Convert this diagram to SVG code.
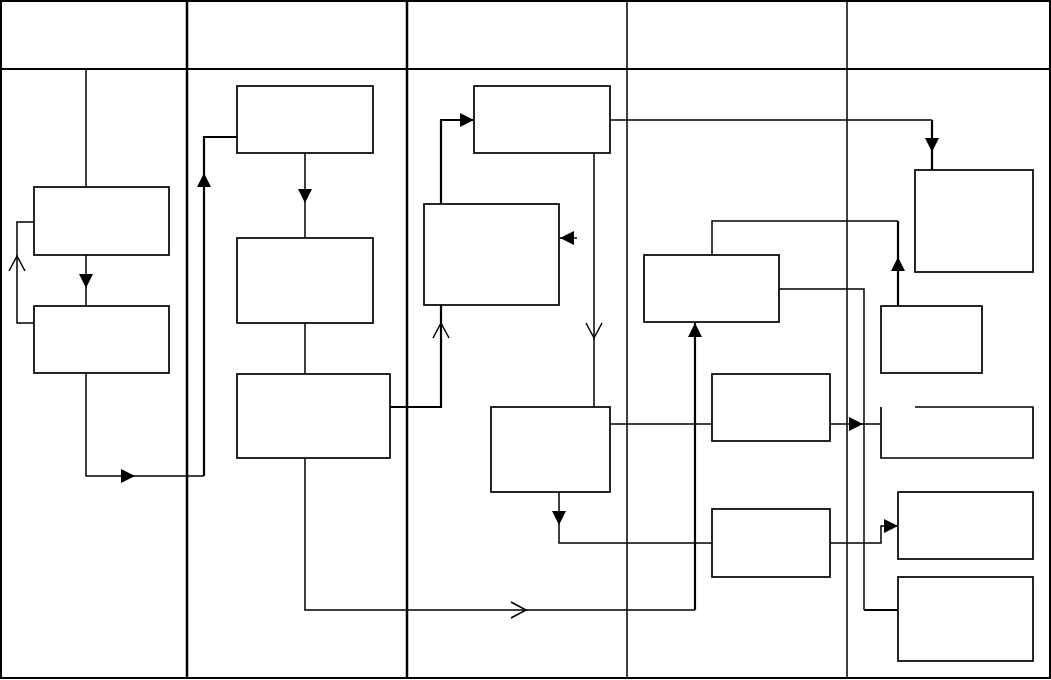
<svg xmlns="http://www.w3.org/2000/svg" xmlns:xlink="http://www.w3.org/1999/xlink" width="1051" height="680" viewBox="0 0 1051 680">
<style>
.bg{fill:#fff}
.frame{fill:none;stroke:#000;stroke-width:2}
.lane{stroke:#000;stroke-width:2.5}
.lane-thin{stroke:#000;stroke-width:1.5}
.box{fill:#fff;stroke:#000;stroke-width:1.7}
.conn{fill:none;stroke:#000;stroke-width:1.5}
.thick{stroke-width:2.2}
.tri{fill:#000;stroke:none}
.chev{fill:none;stroke:#000;stroke-width:1.5}
</style>
<defs>
<path id="tri" d="M0,0 L-14,-7 L-14,7 Z"/>
<path id="chev" d="M-15,-8 L0,0 L-15,8"/>
</defs>
<rect class="bg" x="0" y="0" width="1051" height="680"/>
<g id="grid">
<rect class="frame" x="1" y="1" width="1049" height="677"/>
<line class="lane" x1="187" y1="1" x2="187" y2="678"/>
<line class="lane" x1="407" y1="1" x2="407" y2="678"/>
<line class="lane-thin" x1="627" y1="1" x2="627" y2="678"/>
<line class="lane-thin" x1="847" y1="1" x2="847" y2="678"/>
<line class="lane" x1="1" y1="69" x2="1050" y2="69" style="stroke-width:2"/>
</g>
<g id="connectors">
<path class="conn" d="M86,69 V187"/>
<path class="conn" d="M86,255 V306"/>
<use class="tri" xlink:href="#tri" transform="translate(86,288) rotate(90)"/>
<path class="conn" d="M34,323 H17 V222 H34"/>
<use class="chev" xlink:href="#chev" transform="translate(17,256) rotate(-90)"/>
<path class="conn" d="M86,373 V476 H204"/>
<path class="conn thick" d="M204,476 V137 H237"/>
<use class="tri" xlink:href="#tri" transform="translate(135,476)"/>
<use class="tri" xlink:href="#tri" transform="translate(204,173) rotate(-90)"/>
<path class="conn" d="M305,153 V238"/>
<use class="tri" xlink:href="#tri" transform="translate(305,203) rotate(90)"/>
<path class="conn" d="M305,323 V374"/>
<path class="conn thick" d="M390,407 H441 V305"/>
<use class="chev" xlink:href="#chev" transform="translate(441,323) rotate(-90)"/>
<path class="conn thick" d="M441,204 V120 H474"/>
<use class="tri" xlink:href="#tri" transform="translate(474,120)"/>
<path class="conn" d="M577,238 H560"/>
<use class="tri" xlink:href="#tri" transform="translate(560,238) rotate(180)"/>
<path class="conn" d="M610,120 H932"/>
<path class="conn thick" d="M932,120 V170"/>
<use class="tri" xlink:href="#tri" transform="translate(932,152) rotate(90)"/>
<path class="conn" d="M594,153 V407"/>
<use class="chev" xlink:href="#chev" transform="translate(594,338) rotate(90)"/>
<path class="conn" d="M610,424 H712"/>
<path class="conn" d="M559,492 V543 H712"/>
<use class="tri" xlink:href="#tri" transform="translate(559,525) rotate(90)"/>
<path class="conn" d="M305,458 V610 H695"/>
<path class="conn thick" d="M695,610 V322"/>
<use class="chev" xlink:href="#chev" transform="translate(526,610)"/>
<use class="tri" xlink:href="#tri" transform="translate(695,323) rotate(-90)"/>
<path class="conn thick" d="M898,306 V221"/>
<path class="conn" d="M898,221 H712 V255"/>
<use class="tri" xlink:href="#tri" transform="translate(898,257) rotate(-90)"/>
<path class="conn" d="M779,289 H864 V610"/>
<path class="conn thick" d="M864,610 H898"/>
<path class="conn" d="M830,424 H881"/>
<use class="tri" xlink:href="#tri" transform="translate(863,424)"/>
<path class="conn" d="M830,543 H881 V526 H898"/>
<use class="tri" xlink:href="#tri" transform="translate(898,526)"/>
</g>
<g id="node-a"><rect class="box" x="34" y="187" width="135" height="68"/></g>
<g id="node-b"><rect class="box" x="34" y="306" width="135" height="67"/></g>
<g id="node-c"><rect class="box" x="237" y="86" width="136" height="67"/></g>
<g id="node-d"><rect class="box" x="237" y="238" width="136" height="85"/></g>
<g id="node-e"><rect class="box" x="237" y="374" width="153" height="84"/></g>
<g id="node-f"><rect class="box" x="424" y="204" width="135" height="101"/></g>
<g id="node-h"><rect class="box" x="474" y="86" width="136" height="67"/></g>
<g id="node-i"><rect class="box" x="491" y="407" width="119" height="85"/></g>
<g id="node-g"><rect class="box" x="644" y="255" width="135" height="67"/></g>
<g id="node-k"><rect class="box" x="712" y="374" width="118" height="67"/></g>
<g id="node-l"><rect class="box" x="712" y="509" width="118" height="68"/></g>
<g id="node-j"><rect class="box" x="915" y="170" width="118" height="102"/></g>
<g id="node-n"><rect class="box" x="881" y="306" width="101" height="67"/></g>
<g id="node-m"><path class="box" d="M915,407 H1033 V458 H881 V407"/></g>
<g id="node-o"><rect class="box" x="898" y="492" width="135" height="67"/></g>
<g id="node-p"><rect class="box" x="898" y="577" width="135" height="84"/></g>
</svg>
